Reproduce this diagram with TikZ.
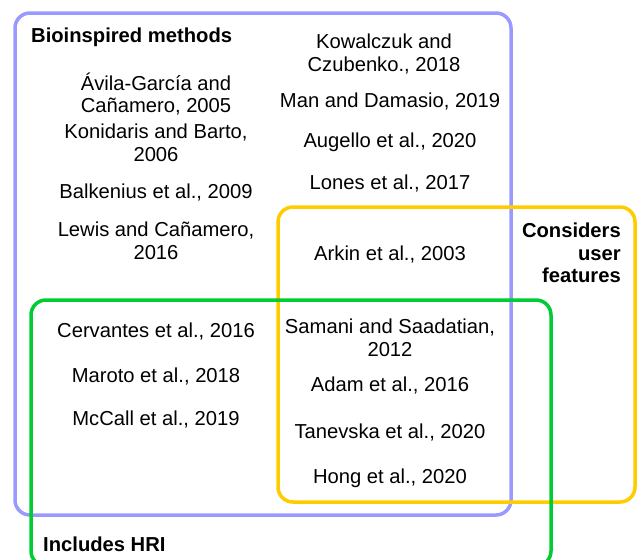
\documentclass[tikz,border=0pt]{standalone}
\usepackage{fontspec}
\setmainfont{Liberation Sans}
\usepackage{tikz}

\begin{document}
\begin{tikzpicture}[
            x = 1pt, y = -1pt, % pixel units, y going down
            font = \fontsize{20.2}{22.5}\selectfont,
            every node/.style = {inner sep = 0pt, align = center},
            group/.style = {line width = 3.5pt, rounded corners = 15pt}
        ]

        \tikzstyle{ref}=[anchor = center]
        \tikzstyle{title}=[font = \fontsize{20.2}{22.5}\selectfont\bfseries]

        \definecolor{bioblue}{HTML}{9999FF}
        \definecolor{useryellow}{HTML}{FFCC00}
        \definecolor{hrigreen}{HTML}{00CC33}

    \useasboundingbox (0, 0) rectangle (638, 560);

    % Define the group boxes
    \draw[group, bioblue] (15, 13) rectangle (511, 515);
    \draw[group, useryellow] (278, 207) rectangle (635, 502);
    \draw[group, hrigreen] (31, 300) rectangle (551, 566);

    % Group titles
    \node[title, anchor = west] (bio) at (31, 37) {Bioinspired methods};
    \node[title, anchor = east, align = right] (user) at (621, 253) {Considers\\user\\features};
    \node[title, anchor = west] (hri) at (43, 544) {Includes HRI};

    % Bioinspired only
    \node[ref] (kowalczuk) at (384, 54) {Kowalczuk and\\Czubenko., 2018};
    \node[ref] (avila) at (156, 94) {Ávila-García and\\Cañamero, 2005};
    \node[ref] (man) at (390, 101) {Man and Damasio, 2019};
    \node[ref] (konidaris) at (156, 143) {Konidaris and Barto,\\2006};
    \node[ref] (augello) at (390, 142) {Augello et al., 2020};
    \node[ref] (balkenius) at (156, 192) {Balkenius et al., 2009};
    \node[ref] (lones) at (390, 183) {Lones et al., 2017};
    \node[ref] (lewis) at (156, 241) {Lewis and Cañamero,\\2016};

    % Bioinspired and user features
    \node[ref] (arkin) at (390, 254) {Arkin et al., 2003};

    % Bioinspired and HRI
    \node[ref] (cervantes) at (156, 331) {Cervantes et al., 2016};
    \node[ref] (maroto) at (156, 376) {Maroto et al., 2018};
    \node[ref] (mccall) at (156, 419) {McCall et al., 2019};

    % All three groups
    \node[ref] (samani) at (390, 338) {Samani and Saadatian,\\2012};
    \node[ref] (adam) at (390, 385) {Adam et al., 2016};
    \node[ref] (tanevska) at (390, 432) {Tanevska et al., 2020};
    \node[ref] (hong) at (390, 478) {Hong et al., 2020};
\end{tikzpicture}
\end{document}
